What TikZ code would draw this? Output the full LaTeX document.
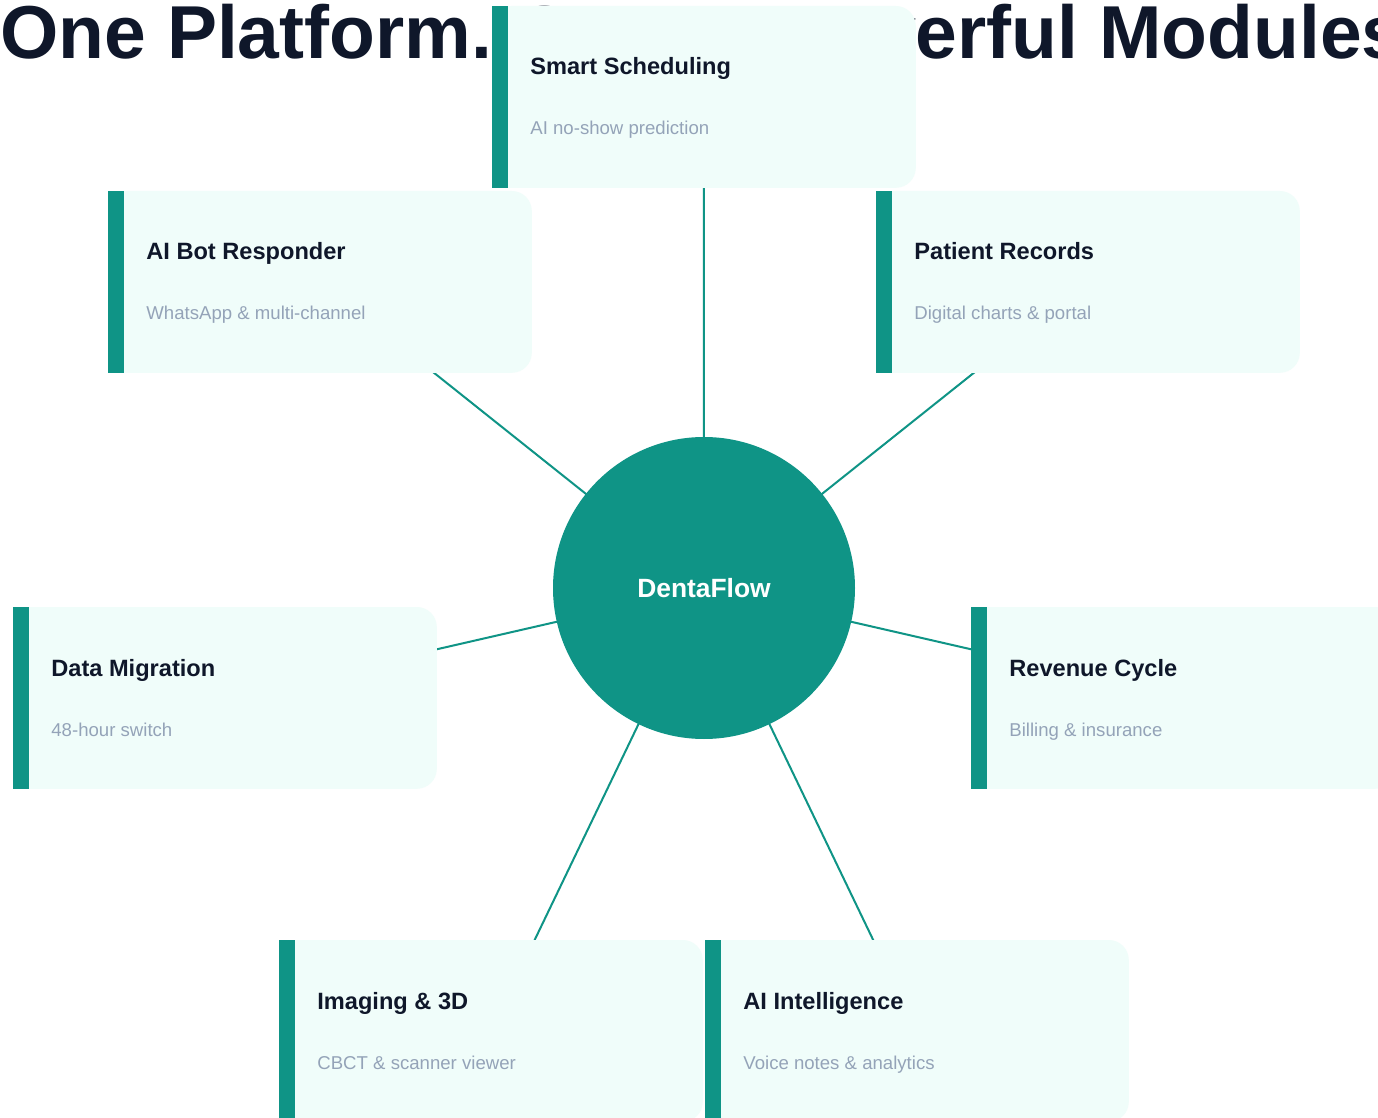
\documentclass[tikz,border=0pt]{standalone}
\usepackage{fontspec}
\setmainfont{Liberation Sans}
\pgfdeclarelayer{background}
\pgfsetlayers{background,main}
\definecolor{brand}{HTML}{0F9486}
\definecolor{cardbg}{HTML}{F0FDFA}
\definecolor{ink}{HTML}{0F172A}
\definecolor{muted}{HTML}{94A3B8}
\tikzset{
  cardnode/.style={rectangle, inner sep=0pt, minimum width=211.5pt, minimum height=90.5pt, anchor=north west},
  cardtitle/.style={inner sep=0pt, anchor=base west, text=ink, font=\bfseries\fontsize{11.8pt}{14pt}\selectfont},
  cardsub/.style={inner sep=0pt, anchor=base west, text=muted, font=\fontsize{9.3pt}{11pt}\selectfont},
  hubnode/.style={circle, fill=brand, minimum size=151pt, inner sep=0pt, text=white, font=\bfseries\fontsize{13.2pt}{15pt}\selectfont},
  conn/.style={draw=brand, line width=1pt},
  titletext/.style={inner sep=0pt, anchor=base west, text=ink, font=\bfseries\fontsize{37.5pt}{40pt}\selectfont}
}
\newcommand\modcard[5]{%
  \node[cardnode] (#1) at (#2,#3) {};
  \fill[cardbg, rounded corners=10pt] (#1.south west) rectangle (#1.north east);
  \fill[cardbg] (#1.south west) rectangle ([xshift=15pt]#1.north west);
  \fill[brand] (#1.south west) rectangle ([xshift=8pt]#1.north west);
  \node[cardtitle] (#1-t) at ([xshift=19pt,yshift=-34.5pt]#1.north west) {#4};
  \node[cardsub] (#1-s) at ([xshift=19pt,yshift=-64.5pt]#1.north west) {#5};
}
\begin{document}
\begin{tikzpicture}[x=0.5pt, y=-0.5pt]
\clip (0,0) rectangle (1378,1118);
\useasboundingbox (0,0) rectangle (1378,1118);
\node[titletext] (title) at (0,59) {One Platform. Seven Powerful Modules};
\node[hubnode] (hub) at (704,588) {DentaFlow};
\modcard{sched}{492}{6}{Smart Scheduling}{AI no-show prediction}
\modcard{bot}{108}{191}{AI Bot Responder}{WhatsApp \& multi-channel}
\modcard{records}{876}{191}{Patient Records}{Digital charts \& portal}
\modcard{migr}{13}{607}{Data Migration}{48-hour switch}
\modcard{rev}{971}{607}{Revenue Cycle}{Billing \& insurance}
\modcard{img}{279}{940}{Imaging \& 3D}{CBCT \& scanner viewer}
\modcard{intel}{705}{940}{AI Intelligence}{Voice notes \& analytics}
\begin{pgfonlayer}{background}
\fill[white] (0,0) rectangle (1378,1118);
\foreach \m in {sched,bot,records,migr,rev,img,intel}
  \draw[conn] (hub.center) -- (\m.center);
\end{pgfonlayer}
\end{tikzpicture}
\end{document}
